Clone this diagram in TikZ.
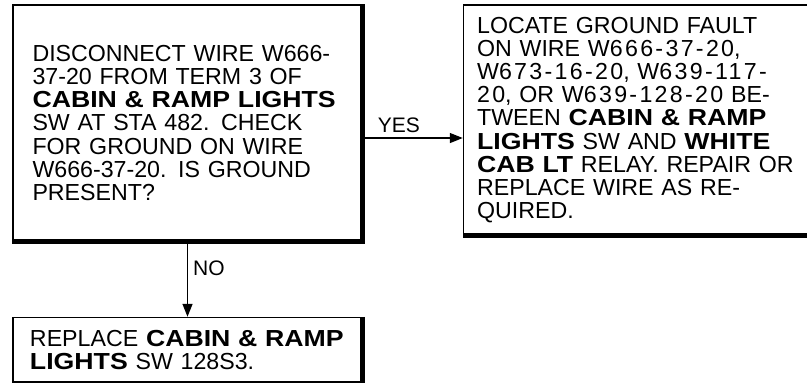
\documentclass[tikz,border=0pt]{standalone}
\usepackage{fontspec}
\setmainfont{Liberation Sans}[BoldFeatures={FakeStretch=1.15}]
\usetikzlibrary{positioning,arrows.meta}
\newcommand{\spacednum}[1]{{\addfontfeature{LetterSpace=10}#1}}

\begin{document}
\begin{tikzpicture}[
x=1pt, y=1pt,
node distance=75pt and 100pt,
every node/.style={font=\fontsize{23.2}{23.2}\selectfont},
box/.style={
draw,
line width=1.6pt,
align=left,
inner sep=0pt
},
heavy/.style={line width=5pt},
arrow/.style={-{Triangle[length=13pt,width=10pt]},line width=1.3pt},
tag/.style={font=\fontsize{21}{21}\selectfont,inner sep=5pt}
]
\useasboundingbox (0,0) rectangle (807,-383);

\node (check) [box,minimum width=349pt,minimum height=236pt,text width=310pt]
at (187.5,-123) {DISCONNECT WIRE W666-\\
37-20 FROM TERM 3 OF\\
\textbf{CABIN \& RAMP LIGHTS}\\
SW AT STA 482. CHECK\\
FOR GROUND ON WIRE\\
W666-37-20. IS GROUND\\
PRESENT?};

\node (locate) [box,minimum width=368pt,minimum height=230pt,text width=341pt,
right=100pt of check.north east,anchor=north west] {LOCATE GROUND FAULT\\
ON WIRE W\spacednum{666-37-20},\\
W\spacednum{673-16-20}, W\spacednum{639-117-}\\
\spacednum{20}, OR W\spacednum{639-128-20} BE-\\
TWEEN \textbf{CABIN \& RAMP}\\
\textbf{LIGHTS} SW AND \textbf{WHITE}\\
\textbf{CAB LT} RELAY. REPAIR OR\\
REPLACE WIRE AS RE-\\
QUIRED.};

\node (replace) [box,minimum width=349pt,minimum height=65pt,text width=315pt,
below=of check] {REPLACE \textbf{CABIN \& RAMP}\\
\textbf{LIGHTS} SW 128S3.};

% heavy right and bottom edges
\draw[heavy] (check.north east) -- (check.south east) -- (check.south west);
\draw[heavy] (locate.north east) -- (locate.south east) -- (locate.south west);
\draw[heavy] (replace.north east) -- (replace.south east) -- (replace.south west);

\draw[arrow] ([yshift=-15pt]check.east) -- node[tag,above,pos=.36] {YES}
([yshift=-15pt]check.east -| locate.west);

\draw[arrow] (check.south) -- node[tag,right,pos=.35] {NO} (replace.north);

\end{tikzpicture}
\end{document}
